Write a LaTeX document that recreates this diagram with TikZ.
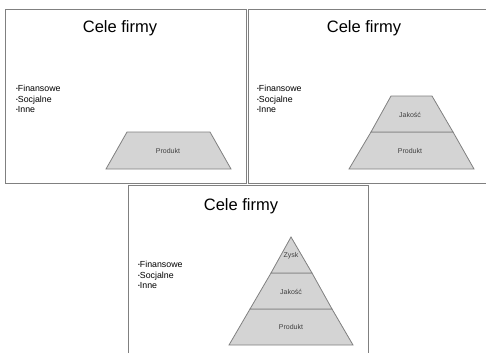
\documentclass[tikz,border=0pt]{standalone}
\usepackage{fontspec}
\setmainfont{Liberation Sans}
\begin{document}
\begin{tikzpicture}[x=1pt,y=-1pt,
  frame/.style={draw=black!50,line width=0.9pt},
  layer/.style={draw=black!50,fill=black!17,line width=0.8pt},
  title/.style={inner sep=0pt,font=\fontsize{16.5}{18}\selectfont},
  bullets/.style={inner sep=0pt,anchor=north west,align=left,font=\fontsize{8.8}{10.5}\selectfont},
  lbl/.style={inner sep=0pt,text=black!75,font=\fontsize{7}{8}\selectfont}]
\newcommand{\bul}{{\fontsize{5}{5}\selectfont\raisebox{0.6pt}{•}}}
\useasboundingbox (0,0) rectangle (486,353);
% slide frames
\draw[frame] (5,9) rectangle (246,183);
\draw[frame] (486,9) -- (248,9) -- (248,183) -- (486,183);
\draw[frame] (128,353) -- (128,185) -- (368,185) -- (368,353);
% slide 1
\node[title] (t1) at (120,28) {Cele firmy};
\node[bullets] (b1) at (16,85) {\bul Finansowe\\\bul Socjalne\\\bul Inne};
\draw[layer] (106,169) -- (127,132) -- (210,132) -- (231,169) -- cycle;
\node[lbl] (p1) at (168,151) {Produkt};
% slide 2
\node[title] (t2) at (364,28) {Cele firmy};
\node[bullets] (b2) at (257,85) {\bul Finansowe\\\bul Socjalne\\\bul Inne};
\draw[layer] (349,169) -- (371,132) -- (453,132) -- (474,169) -- cycle;
\draw[layer] (371,132) -- (391,96) -- (432,96) -- (453,132) -- cycle;
\node[lbl] (j2) at (410,115) {Jakość};
\node[lbl] (p2) at (410,151) {Produkt};
% slide 3
\node[title] (t3) at (241,206) {Cele firmy};
\node[bullets] (b3) at (138,261) {\bul Finansowe\\\bul Socjalne\\\bul Inne};
\draw[layer] (229,345) -- (250,309) -- (332,309) -- (353,345) -- cycle;
\draw[layer] (250,309) -- (271,273) -- (312,273) -- (332,309) -- cycle;
\draw[layer] (271,273) -- (291,237) -- (312,273) -- cycle;
\node[lbl] (z3) at (291,256) {Zysk};
\node[lbl] (j3) at (291,292) {Jakość};
\node[lbl] (p3) at (291,327) {Produkt};
\end{tikzpicture}
\end{document}
